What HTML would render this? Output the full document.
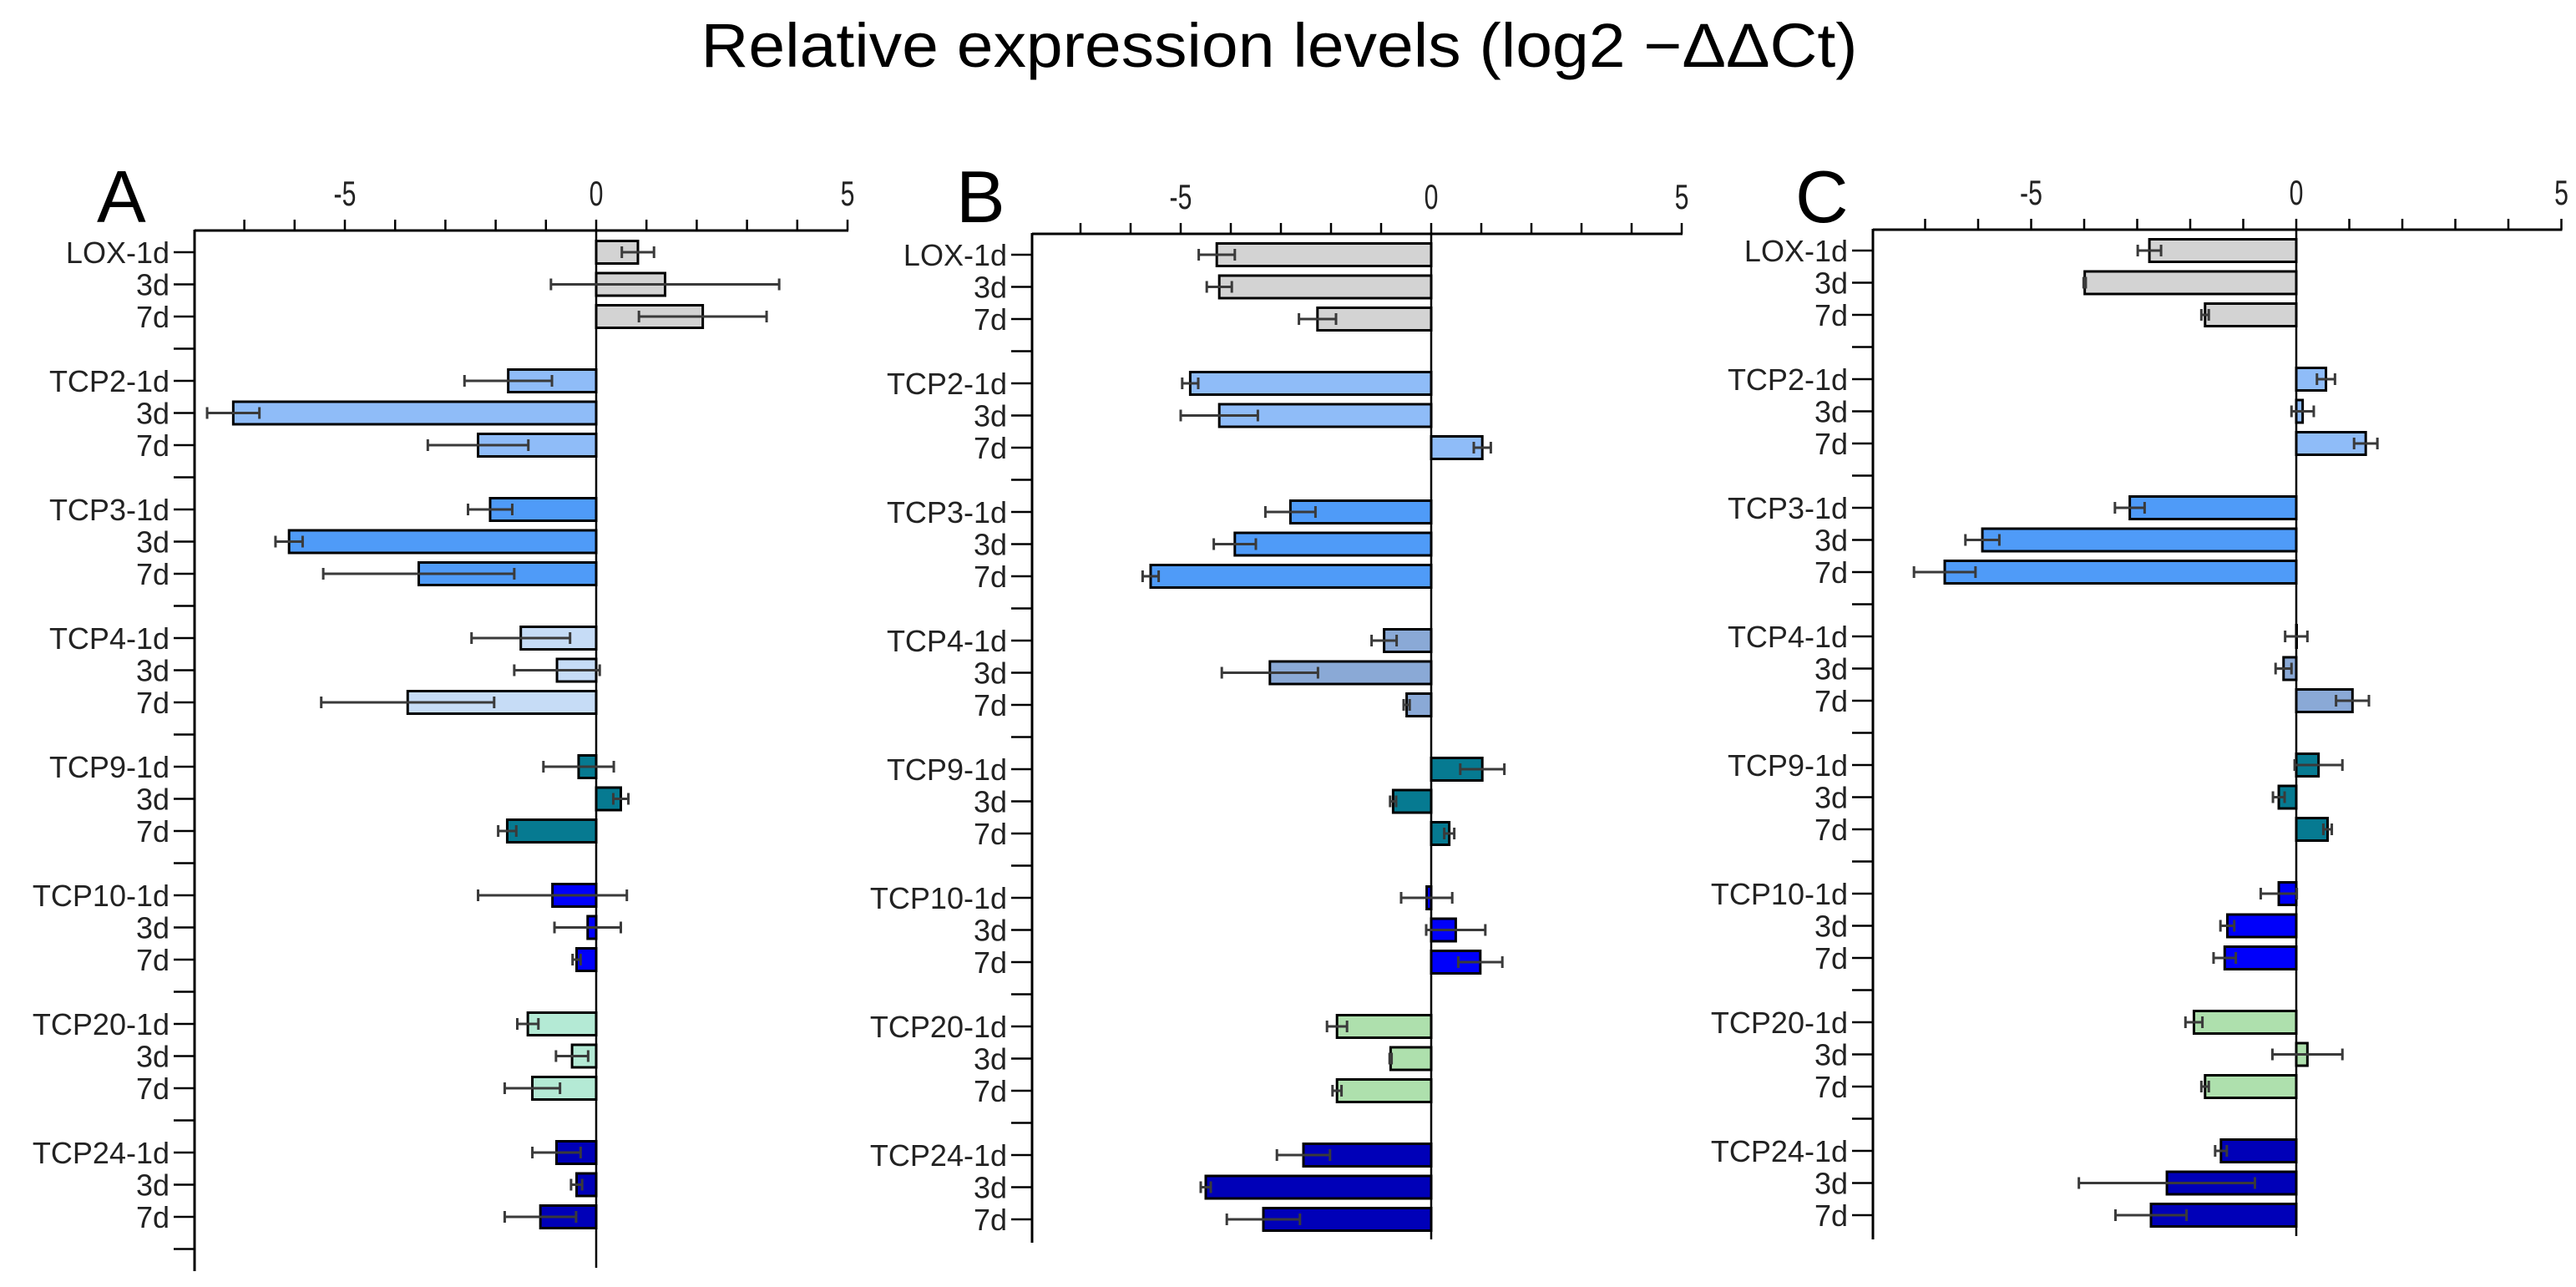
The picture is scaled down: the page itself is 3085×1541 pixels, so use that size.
<!DOCTYPE html>
<html><head><meta charset="utf-8"><style>
html,body{margin:0;padding:0;background:#fff;}
svg{display:block;font-family:"Liberation Sans",Arial,sans-serif;}
</style></head><body>
<svg id="chart" width="3085" height="1541" viewBox="0 0 3085 1541" xmlns="http://www.w3.org/2000/svg">
<text x="1532" y="80" text-anchor="middle" font-size="74" textLength="1385" lengthAdjust="spacingAndGlyphs" fill="#000">Relative expression levels (log2 −ΔΔCt)</text>
</svg>
<script>
const genes = ["LOX","TCP2","TCP3","TCP4","TCP9","TCP10","TCP20","TCP24"];
const times = ["1d","3d","7d"];
const xTicks = [-5,0,5];
const valuesA = [0.83,1.37,2.12, -1.75,-7.22,-2.35, -2.11,-6.11,-3.53, -1.50,-0.78,-3.75, -0.35,0.49,-1.77, -0.87,-0.17,-0.39, -1.36,-0.48,-1.27, -0.79,-0.39,-1.11];
const errorsA = [0.32,2.27,1.27, 0.87,0.52,1.0, 0.44,0.27,1.9, 0.98,0.85,1.72, 0.70,0.15,0.18, 1.48,0.66,0.08, 0.21,0.32,0.55, 0.48,0.11,0.71];
const valuesB = [-4.28,-4.23,-2.27, -4.81,-4.23,1.02, -2.81,-3.92,-5.6, -0.94,-3.22,-0.49, 1.02,-0.76,0.36, -0.09,0.49,0.98, -1.88,-0.81,-1.88, -2.55,-4.5,-3.35];
const errorsB = [0.36,0.25,0.37, 0.16,0.77,0.17, 0.5,0.42,0.16, 0.25,0.96,0.06, 0.44,0.06,0.1, 0.51,0.59,0.44, 0.2,0.02,0.09, 0.53,0.1,0.73];
const valuesC = [-2.77,-3.99,-1.72, 0.56,0.12,1.31, -3.14,-5.92,-6.63, 0.0,-0.24,1.06, 0.42,-0.33,0.59, -0.33,-1.30,-1.35, -1.93,0.21,-1.72, -1.42,-2.44,-2.74];
const errorsC = [0.22,0.02,0.07, 0.17,0.21,0.22, 0.28,0.32,0.58, 0.21,0.15,0.31, 0.45,0.11,0.08, 0.34,0.13,0.21, 0.16,0.66,0.07, 0.11,1.66,0.67];
const colorsA = ["#d3d3d3","#8fbcf8","#4f9bf8","#c6dcf6","#067a91","#0000fa","#b4ead5","#0000b8"];
const colorsBC = ["#d3d3d3","#8fbcf8","#4f9bf8","#8aa9d6","#067a91","#0000fa","#aee0ad","#0000b8"];

const NS="http://www.w3.org/2000/svg";
const svg=document.getElementById('chart');
function mk(tag,attrs,parent){const e=document.createElementNS(NS,tag);for(const k in attrs)e.setAttribute(k,attrs[k]);(parent||svg).appendChild(e);return e;}

const panels=[
 {id:"a",letter:"A",lx:116,axisX:233,zeroX:714,unit:60.2,topY:276,firstY:302,bottomY:1522,extraTick:true,vals:valuesA,errs:errorsA,cols:colorsA},
 {id:"b",letter:"B",lx:1145,axisX:1236,zeroX:1714,unit:60.0,topY:280,firstY:305,bottomY:1488,extraTick:false,vals:valuesB,errs:errorsB,cols:colorsBC},
 {id:"c",letter:"C",lx:2150,axisX:2243,zeroX:2750,unit:63.5,topY:275,firstY:300,bottomY:1484,extraTick:false,vals:valuesC,errs:errorsC,cols:colorsBC}
];
const slot=38.5, barH=27;

panels.forEach(p=>{
  const g=mk('g',{});
  
  
  const xs=v=>p.zeroX+v*p.unit;
  const ys=i=>p.firstY+(Math.floor(i/3)*4+(i%3))*slot;
  const letter=mk('text',{x:p.lx,y:266,'font-size':88,fill:'#000'},g);
  letter.textContent=p.letter;
  
  
  // top axis
  const xa=mk('line',{x1:p.axisX,y1:p.topY,x2:xs(5)+1,y2:p.topY,stroke:'#000','stroke-width':3},g);
  
  
  for(let v=-7;v<=5;v++){
    const t=mk('line',{x1:xs(v),y1:p.topY,x2:xs(v),y2:p.topY-13,stroke:'#000','stroke-width':2.5},g);
    
    
  }
  xTicks.forEach(v=>{
    const t=mk('text',{x:0,y:0,'font-size':42,'text-anchor':'middle',fill:'#222',transform:`translate(${xs(v)},${p.topY-30}) scale(0.72,1)`},g);
    t.textContent=String(v);
    
    
  });
  // left axis
  const ya=mk('line',{x1:p.axisX,y1:p.topY-1,x2:p.axisX,y2:p.bottomY,stroke:'#000','stroke-width':3},g);
  
  
  const nSep=p.extraTick?8:7;
  for(let k=0;k<nSep;k++){
    const yy=p.firstY+(k*4+3)*slot;
    const t=mk('line',{x1:p.axisX-25,y1:yy,x2:p.axisX,y2:yy,stroke:'#000','stroke-width':2.5},g);
    
    
  }
  // zero line
  const z=mk('line',{x1:p.zeroX,y1:p.topY,x2:p.zeroX,y2:p.bottomY-4,stroke:'#000','stroke-width':2.5},g);
  
  
  p.vals.forEach((v,i)=>{
    const yc=ys(i);
    const gi=Math.floor(i/3);
    const t=mk('line',{x1:p.axisX-25,y1:yc,x2:p.axisX,y2:yc,stroke:'#000','stroke-width':2.5},g);
    
    
    const lab=mk('text',{x:p.axisX-30,y:yc+13,'font-size':36,'text-anchor':'end',fill:'#222'},g);
    lab.textContent=(i%3===0?genes[gi]+'-':'')+times[i%3];
    
    
    const x0=Math.min(xs(0),xs(v)), w=Math.abs(xs(v)-xs(0));
    const bar=mk('rect',{x:x0,y:yc-barH/2,width:Math.max(w,0.5),height:barH,fill:p.cols[gi],stroke:'#000','stroke-width':3},g);
    
    
    const e=p.errs[i], xl=xs(v-e), xr=xs(v+e);
    const eg=mk('g',{stroke:'#3a3a3a','stroke-width':3},g);
    
    
    mk('line',{x1:xl,y1:yc,x2:xr,y2:yc},eg);
    mk('line',{x1:xl,y1:yc-7,x2:xl,y2:yc+7},eg);
    mk('line',{x1:xr,y1:yc-7,x2:xr,y2:yc+7},eg);
  });
});
</script>
</body></html>
